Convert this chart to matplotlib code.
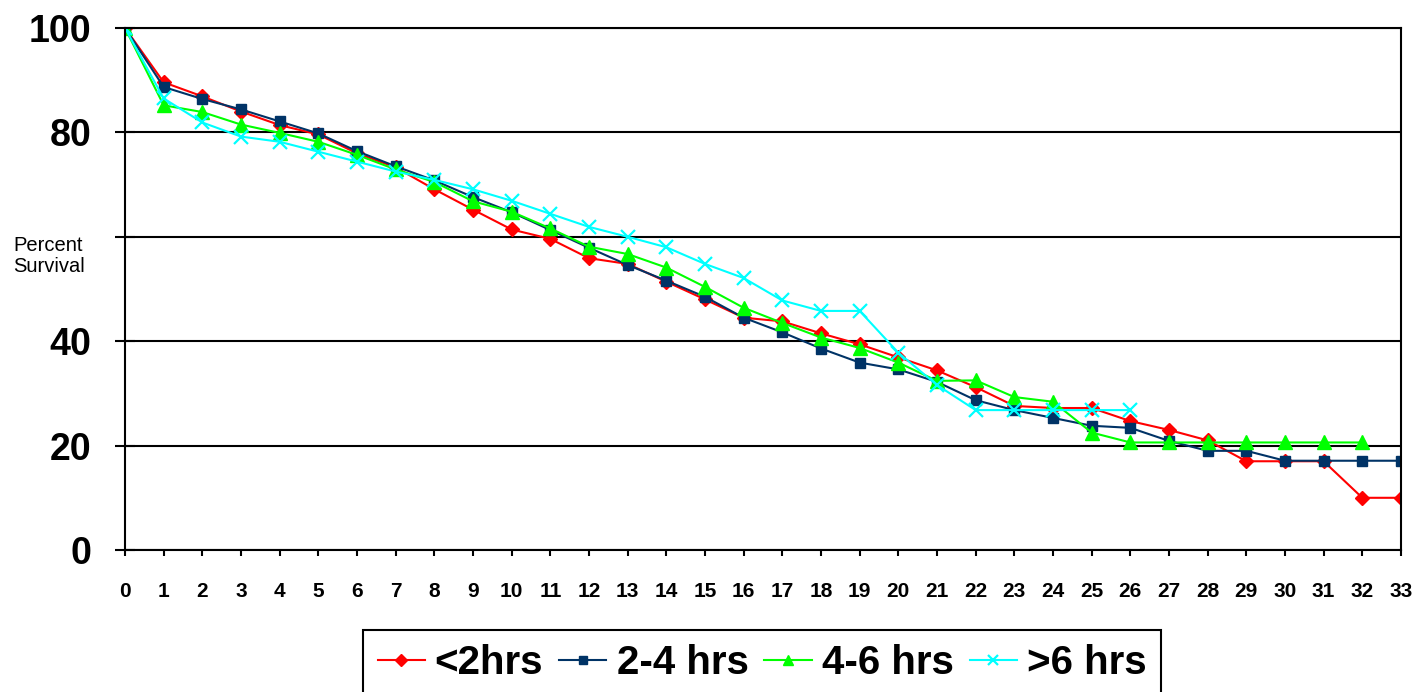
import matplotlib
matplotlib.use("Agg")
import matplotlib.pyplot as plt

plt.rcParams['font.family'] = ['Liberation Sans', 'DejaVu Sans']

hours = list(range(0, 34))

lt2 = [100, 89.6, 86.9, 84.0, 81.4, 79.6, 76.0, 73.3, 69.1, 65.2,
       61.4, 59.6, 55.9, 54.8, 51.4, 48.0, 44.5, 43.8, 41.5, 39.4,
       36.9, 34.4, 31.2, 27.6, 27.2, 27.2, 24.7, 23.0, 21.0, 17.0,
       17.0, 17.0, 10.0, 10.0]
h2_4 = [100, 88.7, 86.4, 84.4, 82.1, 79.8, 76.4, 73.5, 70.8, 67.6,
        64.7, 61.3, 57.9, 54.6, 51.6, 48.5, 44.5, 41.7, 38.6, 35.9,
        34.6, 32.2, 28.7, 26.8, 25.3, 23.8, 23.4, 20.9, 19.0, 19.0,
        17.1, 17.1, 17.1, 17.1]
h4_6 = [100, 85.2, 83.9, 81.5, 79.9, 78.2, 75.7, 72.9, 70.5, 66.8,
        64.8, 61.6, 58.1, 56.7, 54.1, 50.4, 46.4, 43.5, 40.7, 38.7,
        35.9, 32.4, 32.5, 29.3, 28.4, 22.5, 20.6, 20.6, 20.6, 20.6,
        20.6, 20.6, 20.6]
gt6 = [100, 86.5, 81.9, 79.2, 78.2, 76.3, 74.4, 72.5, 70.9, 69.1,
       66.9, 64.4, 61.9, 60.0, 58.0, 54.8, 52.1, 47.8, 45.8, 45.8,
       37.8, 31.6, 26.8, 26.8, 26.8, 26.8, 26.8]

series_labels = ['<2hrs', '2-4 hrs', '4-6 hrs', '>6 hrs']
y_ticks = [0, 20, 40, 60, 80, 100]
y_tick_labels = ['0', '20', '40', '', '80', '100']

fig = plt.figure(figsize=(14.17, 6.92), dpi=100)
ax = fig.add_axes([125 / 1417, 1 - 550 / 692, (1401 - 125) / 1417, (550 - 28) / 692])

ax.plot(hours[:len(lt2)], lt2, color='#FF0000', marker='D', markersize=7.5, lw=1.5, label=series_labels[0])
ax.plot(hours[:len(h2_4)], h2_4, color='#003366', marker='s', markersize=7.5, lw=1.5, label=series_labels[1])
ax.plot(hours[:len(h4_6)], h4_6, color='#00FF00', marker='^', markersize=9.5, lw=1.5, label=series_labels[2])
ax.plot(hours[:len(gt6)], gt6, color='#00FFFF', marker='x', markersize=9.5, mew=1.6, lw=1.5, label=series_labels[3])

ax.set_xlim(0, 33)
ax.set_ylim(0, 100)
ax.set_xticks(hours)
ax.set_xticklabels([str(h) for h in hours], fontsize=15, fontweight='bold')
ax.set_yticks(y_ticks)
ax.set_yticklabels(y_tick_labels, fontsize=27, fontweight='bold')
ax.tick_params(axis='y', direction='inout', length=14, width=1.5, pad=17)
ax.tick_params(axis='x', direction='out', length=4, width=1.5, pad=19)

ax.yaxis.grid(True, color='black', linewidth=1.5)
ax.set_axisbelow(True)
for s in ax.spines.values():
    s.set_color('black')
    s.set_linewidth(1.5)

fig.text(13 / 1417, 1 - 256 / 692, 'Percent\nSurvival', fontsize=14.5,
         ha='left', va='center', linespacing=1.1)

fig.legend(loc='upper center', bbox_to_anchor=(762 / 1417, 1 - 630 / 692),
           ncol=4, prop={'size': 29, 'weight': 'bold'}, frameon=True,
           fancybox=False, edgecolor='black', framealpha=1,
           borderpad=0.35, handlelength=1.17, handletextpad=0.25,
           columnspacing=0.4, borderaxespad=0, markerscale=0.8)
fig.legends[0].get_frame().set_linewidth(1.5)

fig.savefig('out.png', dpi=100)
